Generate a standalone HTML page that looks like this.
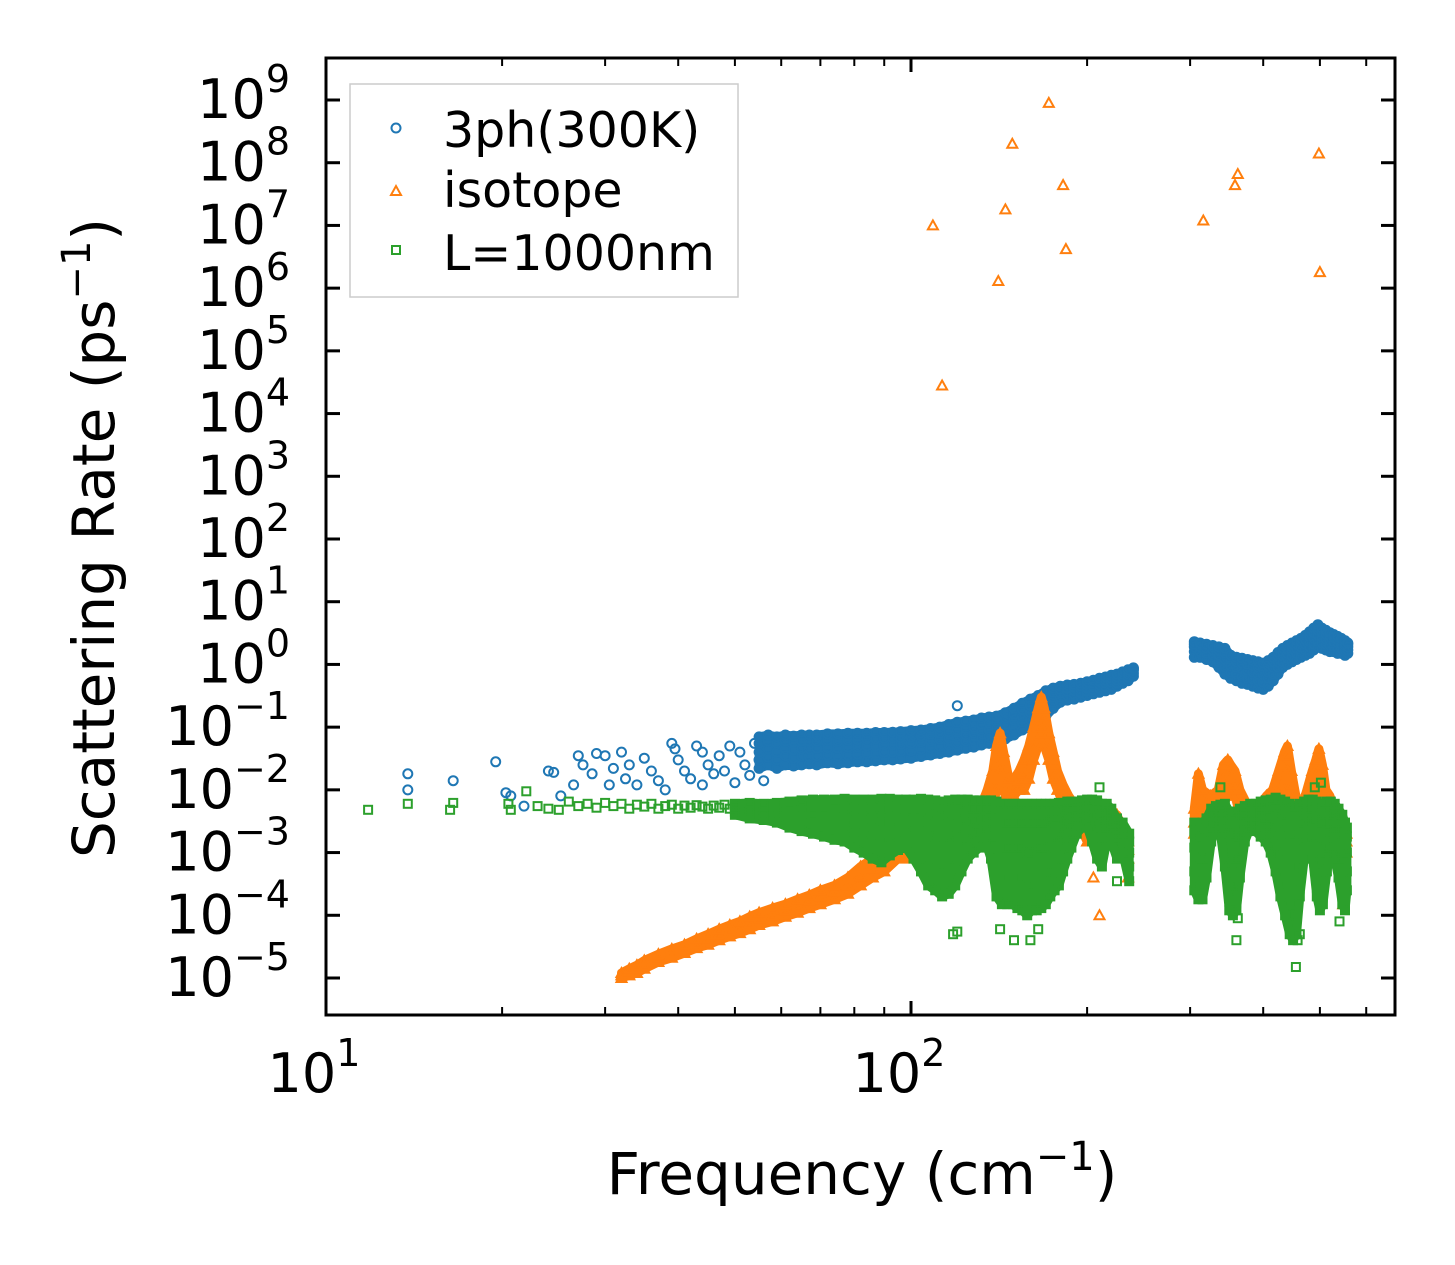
<!DOCTYPE html>
<html><head><meta charset="utf-8"><style>
html,body{margin:0;padding:0;background:#fff}
svg{display:block}
text{font-family:"DejaVu Sans","Liberation Sans",sans-serif;fill:#000}
</style></head><body>
<svg id="chart" width="1455" height="1265" viewBox="0 0 1455 1265" xmlns="http://www.w3.org/2000/svg">
<g id="marks"></g>
<g id="axes"></g>
<rect x="326" y="58" width="1069" height="957" fill="none" stroke="#000" stroke-width="3"/>
<g>
<rect x="350" y="84" width="388" height="213" fill="#fff" fill-opacity="0.8" stroke="#ccc" stroke-width="1.5"/>
<g><circle cx="396" cy="128" r="4.5" fill="none" stroke="#1f77b4" stroke-width="2"/><text x="443" y="147" font-size="49">3ph(300K)</text></g>
<g><path d="M391,195 L401,195 L396,186 Z" fill="none" stroke="#ff7f0e" stroke-width="2"/><text x="443" y="207" font-size="49">isotope</text></g>
<g><rect x="392" y="246" width="8" height="8" fill="none" stroke="#2ca02c" stroke-width="2"/><text x="443" y="270" font-size="49">L=1000nm</text></g>
</g>
<text x="862" y="1194" font-size="58" text-anchor="middle">Frequency (cm<tspan dy="-24" font-size="40">−1</tspan><tspan dy="24">)</tspan></text>
<text transform="translate(114,538) rotate(-90)" font-size="58" text-anchor="middle">Scattering Rate (ps<tspan dy="-24" font-size="40">−1</tspan><tspan dy="24">)</tspan></text>
</svg>
<script>
const xTickExps=[1,2];
const yTickExps=[9,8,7,6,5,4,3,2,1,0,-1,-2,-3,-4,-5];
const blueSparse=[[13.8,0.018],[13.8,0.010],[16.5,0.014],[19.5,0.028],[20.3,0.009],[20.7,0.008],[21.8,0.0055],[24,0.02],[24.5,0.019],[25.2,0.008],[26.5,0.012],[27,0.035],[27.5,0.025],[28.5,0.018],[29,0.038],[30,0.035],[30.5,0.012],[31,0.022],[32,0.04],[32.5,0.015],[33,0.025],[34,0.012],[35,0.032],[36,0.02],[37,0.014],[38,0.01],[39,0.055],[39.5,0.045],[40,0.03],[41,0.02],[42,0.015],[43,0.05],[44,0.04],[44,0.012],[45,0.025],[46,0.018],[47,0.035],[48,0.02],[49,0.05],[50,0.013],[51,0.04],[52,0.025],[53,0.017],[54,0.055],[55,0.03],[56,0.014],[120,0.22]];
const blueBand=[[55,0.022,0.03,0.04,0.055,0.07],[57,0.025,0.033,0.045,0.06,0.075],[59,0.022,0.03,0.04,0.055,0.07],[61,0.025,0.035,0.045,0.06,0.075],[63,0.024,0.032,0.043,0.058,0.072],[65,0.025,0.035,0.045,0.06,0.075],[67,0.026,0.034,0.045,0.06,0.075],[69,0.025,0.035,0.046,0.06,0.075],[72,0.027,0.036,0.047,0.062,0.078],[75,0.026,0.035,0.046,0.06,0.078],[78,0.027,0.036,0.048,0.062,0.08],[81,0.028,0.037,0.048,0.063,0.08],[84,0.028,0.038,0.05,0.065,0.08],[87,0.029,0.038,0.05,0.065,0.082],[90,0.03,0.04,0.052,0.066,0.082],[93,0.03,0.04,0.052,0.067,0.083],[96,0.031,0.041,0.053,0.068,0.085],[100,0.032,0.042,0.055,0.07,0.088],[104,0.034,0.045,0.058,0.073,0.09],[108,0.036,0.047,0.06,0.077,0.095],[112,0.038,0.05,0.064,0.08,0.1],[116,0.04,0.052,0.067,0.085,0.11],[120,0.043,0.056,0.072,0.09,0.12],[124,0.046,0.06,0.076,0.095,0.125],[128,0.048,0.063,0.08,0.1,0.13],[132,0.052,0.067,0.085,0.11,0.14],[136,0.055,0.07,0.09,0.115,0.145],[140,0.058,0.075,0.095,0.12,0.15],[145,0.065,0.085,0.11,0.14,0.17],[150,0.075,0.1,0.13,0.16,0.2],[155,0.09,0.12,0.15,0.19,0.24],[160,0.1,0.13,0.17,0.22,0.28],[165,0.12,0.15,0.2,0.26,0.32],[170,0.15,0.2,0.25,0.32,0.38],[175,0.2,0.25,0.3,0.36,0.42],[180,0.25,0.3,0.35,0.4,0.45],[185,0.27,0.32,0.37,0.42,0.47],[190,0.28,0.33,0.38,0.43,0.48],[195,0.3,0.35,0.4,0.45,0.5],[200,0.32,0.37,0.42,0.47,0.53],[205,0.34,0.39,0.44,0.5,0.56],[210,0.36,0.41,0.47,0.53,0.6],[215,0.38,0.44,0.5,0.56,0.63],[220,0.4,0.46,0.52,0.6,0.67],[225,0.45,0.5,0.56,0.63,0.7],[230,0.5,0.55,0.62,0.7,0.76],[235,0.55,0.62,0.7,0.76,0.82],[240,0.65,0.72,0.8,0.85,0.88]];
const blueHigh=[[305,1.3,1.6,1.9,2.1,2.3],[312,1.3,1.6,1.9,2.1,2.2],[320,1.2,1.5,1.8,2.0,2.1],[328,1.1,1.4,1.7,1.9,2.0],[336,0.9,1.1,1.4,1.7,1.9],[344,0.7,0.9,1.2,1.5,1.8],[352,0.6,0.75,0.95,1.2,1.4],[360,0.55,0.7,0.9,1.1,1.3],[368,0.5,0.65,0.85,1.05,1.25],[376,0.48,0.6,0.8,1.0,1.2],[384,0.45,0.58,0.75,0.95,1.15],[392,0.42,0.55,0.7,0.9,1.1],[400,0.4,0.52,0.68,0.85,1.05],[408,0.45,0.6,0.75,0.95,1.15],[416,0.55,0.7,0.9,1.1,1.3],[424,0.7,0.9,1.1,1.35,1.55],[432,0.9,1.1,1.35,1.6,1.8],[440,1.0,1.25,1.5,1.75,2.0],[448,1.1,1.35,1.6,1.9,2.2],[456,1.2,1.5,1.8,2.1,2.4],[464,1.3,1.6,1.9,2.3,2.6],[472,1.4,1.7,2.1,2.5,2.9],[480,1.5,1.9,2.3,2.8,3.3],[488,1.7,2.1,2.6,3.2,3.8],[496,1.9,2.3,2.9,3.5,4.3],[504,1.8,2.2,2.7,3.2,3.8],[512,1.7,2.1,2.5,3.0,3.5],[520,1.6,2.0,2.4,2.8,3.2],[528,1.6,1.9,2.3,2.7,3.0],[536,1.5,1.8,2.2,2.5,2.8],[544,1.5,1.8,2.1,2.4,2.6],[552,1.4,1.7,2.0,2.2,2.4],[558,1.5,1.7,1.9,2.1,2.2]];
const orangeOutliers=[[109,1e7],[113,2.8e4],[141,1.3e6],[145,1.8e7],[149,2e8],[172,9e8],[182,4.4e7],[184,4.2e6],[316,1.2e7],[358,4.4e7],[362,6.6e7],[498,1.4e8],[500,1.8e6],[210,1e-4],[205,4e-4],[235,4e-4],[548,1.5e-4]];
const orangeBand=[[32,1e-5,1.1e-5,1.2e-5],[33,1.1e-5,1.25e-5,1.4e-5],[34,1.2e-5,1.4e-5,1.6e-5],[35,1.4e-5,1.6e-5,1.9e-5],[37,1.8e-5,2.1e-5,2.4e-5],[39,2.1e-5,2.5e-5,2.9e-5],[41,2.5e-5,3e-5,3.4e-5],[43,3e-5,3.6e-5,4.2e-5],[45,3.4e-5,4.2e-5,5e-5],[47,4e-5,5e-5,6e-5],[49,4.6e-5,5.8e-5,7e-5],[51,5.2e-5,6.5e-5,8e-5],[53,6e-5,7.5e-5,9.5e-5],[55,7e-5,8.8e-5,1.1e-4],[58,8e-5,1e-4,1.3e-4],[61,9.5e-5,1.2e-4,1.5e-4],[64,1.1e-4,1.4e-4,1.8e-4],[67,1.3e-4,1.7e-4,2.1e-4],[70,1.5e-4,2e-4,2.5e-4],[74,1.8e-4,2.4e-4,3e-4],[78,2.2e-4,3e-4,4e-4],[82,3e-4,4.2e-4,6e-4],[86,4e-4,5.6e-4,8e-4],[90,5e-4,7e-4,1e-3],[95,8e-4,1.1e-3,1.5e-3],[100,8e-4,1e-3,1.2e-3],[105,9e-4,1.2e-3,1.5e-3],[110,1e-3,1.4e-3,2e-3],[115,1e-3,1.2e-3,1.5e-3],[120,1e-3,1.4e-3,2e-3],[125,1.2e-3,2e-3,3e-3],[130,1.5e-3,2.5e-3,4e-3],[135,3e-3,5e-3,1e-2],[138,5e-3,1e-2,2e-2],[140,1e-2,2.5e-2,5e-2],[142,2e-2,4e-2,8e-2],[144,1e-2,2e-2,4e-2],[147,5e-3,9e-3,1.5e-2],[150,8e-3,1.1e-2,1.5e-2],[153,1e-2,1.4e-2,2e-2],[156,1e-2,1.8e-2,3e-2],[159,1.5e-2,3e-2,5e-2],[162,3e-2,5e-2,1e-1],[165,5e-2,1e-1,2e-1],[167,8e-2,1.5e-1,3e-1],[169,5e-2,1e-1,2e-1],[172,3e-2,5e-2,8e-2],[175,1.5e-2,2.5e-2,4e-2],[178,1e-2,1.4e-2,2e-2],[182,6e-3,8e-3,1.2e-2],[186,4e-3,6e-3,8e-3],[190,3e-3,4e-3,6e-3],[195,2.5e-3,3.5e-3,5e-3],[200,1.5e-3,2e-3,3e-3],[215,3e-3,4e-3,5e-3],[225,2e-3,3e-3,4e-3],[235,8e-4,1.1e-3,1.5e-3],[305,2e-3,3e-3,5e-3],[310,5e-3,1e-2,1.8e-2],[315,3e-3,5e-3,1e-2],[325,4e-3,6e-3,8e-3],[335,3e-3,6e-3,1e-2],[342,5e-3,1.5e-2,2.5e-2],[348,1e-2,2e-2,3e-2],[352,1e-2,2e-2,2.5e-2],[358,8e-3,1.2e-2,2e-2],[365,4e-3,6e-3,1e-2],[375,3e-3,4e-3,6e-3],[385,3e-3,4e-3,5e-3],[395,3e-3,4e-3,6e-3],[405,4e-3,5e-3,8e-3],[415,4e-3,6e-3,1e-2],[425,5e-3,1e-2,2e-2],[435,1e-2,2.5e-2,4e-2],[440,2e-2,3.5e-2,5e-2],[447,8e-3,1.2e-2,2e-2],[455,3e-3,5e-3,8e-3],[465,2e-3,3e-3,5e-3],[475,3e-3,5e-3,1e-2],[485,5e-3,1e-2,2e-2],[492,1e-2,2e-2,3e-2],[498,2e-2,3e-2,4.5e-2],[505,8e-3,1.5e-2,2.5e-2],[512,5e-3,7e-3,1e-2],[520,3e-3,5e-3,8e-3],[530,2e-3,3e-3,5e-3],[540,1e-3,2e-3,3e-3],[555,1e-3,1.5e-3,2e-3]];
const greenSparse=[[11.8,0.0048],[13.8,0.006],[16.3,0.0048],[16.5,0.0062],[20.5,0.006],[20.7,0.0048],[22,0.0095],[23,0.0055],[24,0.005],[25,0.0048],[26,0.0065],[27,0.0055],[28,0.006],[29,0.0052],[30,0.0062],[31,0.0055],[32,0.006],[33,0.005],[34,0.0058],[35,0.0054],[36,0.006],[37,0.005],[38,0.0055],[39,0.0058],[40,0.005],[41,0.0056],[42,0.0052],[43,0.0057],[44,0.0054],[45,0.005],[46,0.0056],[47,0.0052],[48,0.0058],[49,0.005],[120,5.5e-5],[118,5e-5],[142,6e-5],[150,4e-5],[160,4e-5],[165,6e-5],[225,3.5e-4],[318,4e-4],[360,4e-5],[362,9e-5],[455,1.5e-5],[458,4e-5],[462,5e-5],[540,8e-5],[210,1.1e-2],[338,1.1e-2],[490,1.1e-2],[502,1.3e-2]];
const greenBand=[[50,0.004,0.0045,0.005,0.0055,0.006],[53,0.0035,0.0042,0.005,0.0056,0.0062],[56,0.0033,0.004,0.0048,0.0055,0.006],[59,0.003,0.0038,0.0046,0.0054,0.0062],[62,0.0025,0.0035,0.0045,0.0055,0.0065],[65,0.0022,0.003,0.0042,0.0055,0.0068],[68,0.002,0.003,0.004,0.0055,0.007],[71,0.0018,0.0028,0.004,0.0055,0.007],[74,0.0016,0.0026,0.0038,0.0052,0.007],[77,0.0015,0.0025,0.0038,0.0052,0.0072],[80,0.0012,0.0022,0.0035,0.005,0.007],[83,0.001,0.002,0.0035,0.005,0.007],[86,0.0008,0.0018,0.0032,0.005,0.007],[89,0.0007,0.0015,0.003,0.005,0.0072],[92,0.0009,0.0018,0.0032,0.005,0.0072],[95,0.0011,0.002,0.0035,0.005,0.007],[98,0.0012,0.0022,0.0035,0.005,0.007],[101,0.0008,0.0018,0.0032,0.005,0.007],[104,0.0005,0.0012,0.0028,0.005,0.0072],[107,0.0003,0.0008,0.0022,0.0045,0.007],[110,0.00025,0.0006,0.0018,0.004,0.0068],[113,0.0002,0.0005,0.0015,0.0038,0.0065],[116,0.00022,0.0006,0.0018,0.004,0.0068],[119,0.0003,0.0008,0.002,0.0042,0.007],[122,0.0005,0.0012,0.0025,0.0045,0.007],[125,0.0008,0.0016,0.003,0.005,0.007],[128,0.001,0.002,0.0032,0.005,0.0068],[131,0.0012,0.0022,0.0034,0.005,0.0068],[134,0.0015,0.0025,0.0035,0.005,0.0068],[137,0.0008,0.0018,0.003,0.005,0.0068],[140,0.0002,0.0006,0.0018,0.0038,0.0065],[143,0.00015,0.0004,0.0012,0.003,0.006],[146,0.00015,0.0004,0.0012,0.003,0.006],[149,0.00015,0.0004,0.0012,0.003,0.006],[152,0.00013,0.0004,0.0012,0.003,0.006],[155,0.00012,0.0004,0.0012,0.003,0.006],[158,0.0001,0.0003,0.001,0.003,0.006],[161,0.00012,0.0003,0.001,0.003,0.006],[164,0.00012,0.0004,0.0012,0.003,0.006],[167,0.00013,0.0004,0.0012,0.003,0.006],[170,0.00015,0.0004,0.0012,0.003,0.006],[173,0.0002,0.0005,0.0015,0.0035,0.006],[176,0.00025,0.0006,0.0018,0.0035,0.006],[179,0.0003,0.0008,0.002,0.0038,0.0062],[182,0.0005,0.0012,0.0025,0.004,0.0062],[185,0.0008,0.0015,0.003,0.0045,0.0065],[188,0.0012,0.002,0.0032,0.0048,0.0065],[192,0.002,0.0028,0.0038,0.005,0.0065],[196,0.0025,0.0032,0.004,0.0052,0.0068],[200,0.0026,0.0034,0.0042,0.0055,0.007],[204,0.0015,0.0025,0.0038,0.0052,0.007],[208,0.0008,0.0015,0.003,0.005,0.0068],[212,0.0006,0.0012,0.0025,0.004,0.006],[216,0.0015,0.0025,0.0035,0.0045,0.006],[220,0.0015,0.0022,0.003,0.004,0.005],[225,0.0008,0.0012,0.0016,0.002,0.0035],[230,0.001,0.0015,0.002,0.0025,0.003],[236,0.00035,0.0006,0.001,0.0015,0.002],[305,0.00025,0.0005,0.0012,0.0022,0.003],[310,0.00018,0.0003,0.0008,0.0018,0.0028],[315,0.00018,0.0003,0.0008,0.0018,0.003],[320,0.0004,0.0008,0.0015,0.0025,0.0035],[326,0.0015,0.0022,0.003,0.004,0.005],[332,0.0025,0.003,0.0038,0.0045,0.0055],[338,0.002,0.0028,0.0036,0.0045,0.0058],[344,0.0006,0.0012,0.0025,0.004,0.006],[350,0.00012,0.0003,0.0008,0.002,0.0045],[355,0.0001,0.00025,0.0007,0.0018,0.004],[360,0.00012,0.0003,0.0008,0.002,0.0045],[365,0.0004,0.0008,0.0018,0.003,0.005],[372,0.0015,0.0022,0.003,0.004,0.0055],[380,0.0025,0.003,0.0038,0.0048,0.006],[388,0.0022,0.003,0.0038,0.0048,0.006],[396,0.0018,0.0028,0.0038,0.005,0.0065],[404,0.0015,0.0025,0.0036,0.005,0.0068],[412,0.001,0.002,0.0032,0.005,0.007],[420,0.0005,0.0012,0.0028,0.0048,0.0075],[428,0.0002,0.0006,0.0018,0.004,0.007],[436,0.0001,0.0003,0.001,0.003,0.0065],[444,0.00005,0.00015,0.0006,0.002,0.006],[450,0.00004,0.0001,0.0004,0.0015,0.005],[456,0.00005,0.00015,0.0006,0.002,0.0055],[462,0.0002,0.0006,0.0015,0.003,0.006],[470,0.0008,0.0016,0.003,0.0045,0.0065],[478,0.0015,0.0025,0.0038,0.005,0.007],[486,0.0008,0.0018,0.0032,0.005,0.007],[494,0.0002,0.0005,0.0015,0.0035,0.0065],[500,0.00012,0.0003,0.001,0.003,0.006],[506,0.00015,0.0004,0.0012,0.003,0.006],[514,0.0005,0.001,0.0022,0.004,0.0065],[522,0.0012,0.002,0.003,0.0045,0.0065],[530,0.0008,0.0015,0.0025,0.004,0.006],[538,0.0004,0.0008,0.0015,0.003,0.005],[546,0.00015,0.0004,0.001,0.002,0.004],[552,0.00012,0.0003,0.0008,0.0015,0.003],[556,0.00025,0.0005,0.001,0.0018,0.0025]];

const X0=326,XD=585,YTOP9=100,YD=62.714;
function xs(f){return X0+(Math.log10(f)-1)*XD;}
function ys(v){return YTOP9+(9-Math.log10(v))*YD;}
const NS='http://www.w3.org/2000/svg';
const marks=document.getElementById('marks');
const axes=document.getElementById('axes');
function flat(rows){const out=[];rows.forEach(r=>{for(let i=1;i<r.length;i++)out.push([r[0],r[i]]);});return out;}
function mk(tag,attrs){const e=document.createElementNS(NS,tag);for(const k in attrs)e.setAttribute(k,attrs[k]);return e;}
function segments(rows){const segs=[];let cur=[];rows.forEach((r,i)=>{if(i>0&&r[0]/rows[i-1][0]>1.2){segs.push(cur);cur=[];}cur.push(r);});if(cur.length)segs.push(cur);return segs;}
function envelope(g,rows,color,name){
  segments(rows).forEach(seg=>{
    let d='';
    seg.forEach((r,i)=>{d+=(i?'L':'M')+xs(r[0]).toFixed(1)+','+ys(r[1]).toFixed(1);});
    for(let i=seg.length-1;i>=0;i--){const r=seg[i];d+='L'+xs(r[0]).toFixed(1)+','+ys(r[r.length-1]).toFixed(1);}
    d+='Z';
    const p=mk('path',{d,fill:color,stroke:color,'stroke-width':9,'stroke-linejoin':'round'});
    
    
    g.appendChild(p);
  });
}
const gB=mk('g',{});


const gO=mk('g',{});


const gG=mk('g',{});


marks.appendChild(gB);marks.appendChild(gO);marks.appendChild(gG);
envelope(gB,blueBand,'#1f77b4','band-3ph');
envelope(gB,blueHigh,'#1f77b4','band-3ph-high');
blueSparse.concat(flat(blueBand),flat(blueHigh)).forEach(p=>{
  const c=mk('circle',{cx:xs(p[0]).toFixed(1),cy:ys(p[1]).toFixed(1),r:4.5,fill:'none',stroke:'#1f77b4','stroke-width':2});
  
  
  gB.appendChild(c);
});
envelope(gO,orangeBand,'#ff7f0e','band-isotope');
orangeOutliers.concat(flat(orangeBand)).forEach(p=>{
  const x=xs(p[0]),y=ys(p[1]);
  const t=mk('path',{d:`M${(x-5).toFixed(1)},${(y+4).toFixed(1)} L${(x+5).toFixed(1)},${(y+4).toFixed(1)} L${x.toFixed(1)},${(y-5).toFixed(1)} Z`,fill:'none',stroke:'#ff7f0e','stroke-width':2});
  
  
  gO.appendChild(t);
});
envelope(gG,greenBand,'#2ca02c','band-boundary');
greenSparse.concat(flat(greenBand)).forEach(p=>{
  const r=mk('rect',{x:(xs(p[0])-4).toFixed(1),y:(ys(p[1])-4).toFixed(1),width:8,height:8,fill:'none',stroke:'#2ca02c','stroke-width':2});
  
  
  gG.appendChild(r);
});
function line(x1,y1,x2,y2,w){return mk('line',{x1,y1,x2,y2,stroke:'#000','stroke-width':w});}
yTickExps.forEach(e=>{
  const y=ys(Math.pow(10,e));
  const g=mk('g',{});
  
  
  g.appendChild(line(326,y,340,y,3));
  g.appendChild(line(1381,y,1395,y,3));
  const t=mk('text',{x:290,y:y+18,'font-size':54,'text-anchor':'end'});
  t.textContent='10';
  const s=mk('tspan',{dy:-26,'font-size':38});
  s.textContent=e<0?'−'+(-e):String(e);
  t.appendChild(s);
  g.appendChild(t);
  axes.appendChild(g);
});
xTickExps.forEach(e=>{
  const x=xs(Math.pow(10,e));
  const g=mk('g',{});
  
  
  g.appendChild(line(x,1015,x,1001,3));
  g.appendChild(line(x,58,x,72,3));
  const t=mk('text',{x:x-12,y:1092,'font-size':54,'text-anchor':'middle'});
  t.textContent='10';
  const s=mk('tspan',{dy:-26,'font-size':38});
  s.textContent=String(e);
  t.appendChild(s);
  g.appendChild(t);
  axes.appendChild(g);
});
[20,30,40,50,60,70,80,90,200,300,400,500,600].forEach(f=>{
  const x=xs(f);
  const g=mk('g',{});
  
  
  g.appendChild(line(x,1015,x,1007,2));
  g.appendChild(line(x,58,x,66,2));
  axes.appendChild(g);
});
</script>
</body></html>
